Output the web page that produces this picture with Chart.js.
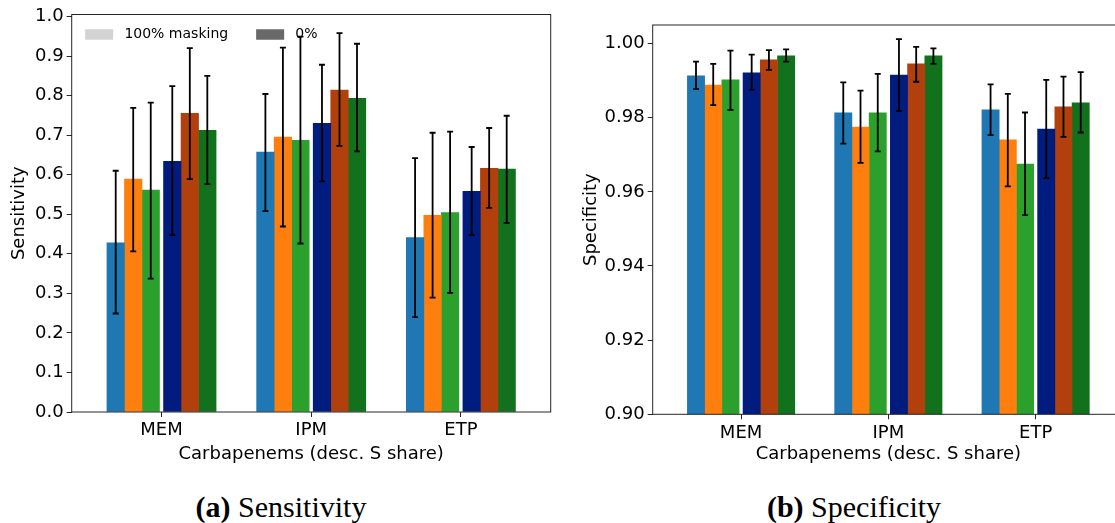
<!DOCTYPE html>
<html>
<head>
<meta charset="utf-8">
<script src="https://cdn.jsdelivr.net/npm/chart.js@4"></script>
<style>
  html, body { margin: 0; padding: 0; background: #fff; overflow: hidden; width: 1115px; height: 523px; }
  #wrap { position: relative; width: 1115px; height: 523px; overflow: hidden; }
  canvas { position: absolute; top: 0; }
  #sensChart { left: 0; width: 560px; height: 470px; }
  #specChart { left: 560px; width: 570px; height: 470px; }
  .cap { position: absolute; top: 492px; font-family: 'Liberation Serif', 'Times New Roman', serif;
         font-size: 30px; line-height: 30px; white-space: nowrap; transform: translateX(-50%); color: #000; }
</style>
</head>
<body>
<div id="wrap">
  <canvas id="sensChart" width="560" height="470"></canvas>
  <canvas id="specChart" width="570" height="470"></canvas>
  <div class="cap" style="left:281px"><b>(a)</b> Sensitivity</div>
  <div class="cap" style="left:854px"><b>(b)</b> Specificity</div>
</div>
<script>
// Carbapenem agents, ordered by descending S share
const categories = ['MEM', 'IPM', 'ETP'];

// Six bar series per agent: three models at 100% masking, then the same three at 0%
const seriesNames = ['model 1 (100%)', 'model 2 (100%)', 'model 3 (100%)',
                     'model 1 (0%)', 'model 2 (0%)', 'model 3 (0%)'];
const seriesColors = ['#1f77b4', '#ff7f0e', '#2ca02c', '#001c7f', '#b1400d', '#12711c'];

const legendLabels = ['100% masking', '0%'];
const legendColors = ['#d3d3d3', '#696969'];

// Sensitivity: mean and interval bounds, one row per series, columns follow categories
const sensMean = [
  [0.428, 0.657, 0.441],
  [0.589, 0.695, 0.497],
  [0.561, 0.687, 0.504],
  [0.634, 0.730, 0.558],
  [0.755, 0.814, 0.616],
  [0.712, 0.793, 0.614]
];
const sensLow = [
  [0.249, 0.508, 0.240],
  [0.406, 0.469, 0.289],
  [0.337, 0.426, 0.301],
  [0.447, 0.583, 0.447],
  [0.589, 0.673, 0.516],
  [0.576, 0.659, 0.478]
];
const sensHigh = [
  [0.610, 0.804, 0.642],
  [0.769, 0.921, 0.706],
  [0.782, 0.949, 0.709],
  [0.824, 0.878, 0.670],
  [0.920, 0.958, 0.718],
  [0.850, 0.931, 0.749]
];

// Specificity: mean and interval bounds
const specMean = [
  [0.9913, 0.9813, 0.9821],
  [0.9888, 0.9775, 0.9740],
  [0.9902, 0.9813, 0.9675],
  [0.9921, 0.9915, 0.9769],
  [0.9956, 0.9945, 0.9829],
  [0.9967, 0.9967, 0.9840]
];
const specLow = [
  [0.9877, 0.9730, 0.9753],
  [0.9834, 0.9678, 0.9615],
  [0.9821, 0.9709, 0.9537],
  [0.9875, 0.9818, 0.9637],
  [0.9929, 0.9897, 0.9748],
  [0.9951, 0.9945, 0.9760]
];
const specHigh = [
  [0.9951, 0.9895, 0.9890],
  [0.9945, 0.9873, 0.9864],
  [0.9981, 0.9918, 0.9814],
  [0.9970, 1.0012, 0.9902],
  [0.9982, 0.9991, 0.9911],
  [0.9984, 0.9987, 0.9923]
];

const sensTicks = [0.0, 0.1, 0.2, 0.3, 0.4, 0.5, 0.6, 0.7, 0.8, 0.9, 1.0];
const specTicks = [0.90, 0.92, 0.94, 0.96, 0.98, 1.00];

// Bar geometry in category units: two blocks of three bars with a small gap between them
const BAR_W = 0.117;
const BLOCK_GAP = 0.027;
function barOffset(k) {
  return k < 3 ? -BLOCK_GAP / 2 - (2.5 - k) * BAR_W
               : BLOCK_GAP / 2 + (k - 3 + 0.5) * BAR_W;
}

const FONT = 'DejaVu Sans';
Chart.defaults.font.family = FONT;
Chart.defaults.color = '#000';

const AXIS_COLOR = '#262626';

// Vertical error bars with caps, drawn from each dataset's low/high arrays
const errorBars = {
  id: 'errorBars',
  afterDatasetsDraw(chart) {
    const { ctx } = chart;
    const yScale = chart.scales.y;
    ctx.save();
    ctx.strokeStyle = '#000';
    ctx.lineWidth = 1.8;
    chart.data.datasets.forEach((ds, i) => {
      const meta = chart.getDatasetMeta(i);
      meta.data.forEach((bar, j) => {
        const top = yScale.getPixelForValue(ds.errHigh[j]);
        const bot = yScale.getPixelForValue(ds.errLow[j]);
        const cap = 3;
        ctx.beginPath();
        ctx.moveTo(bar.x, top); ctx.lineTo(bar.x, bot);
        ctx.moveTo(bar.x - cap, top); ctx.lineTo(bar.x + cap, top);
        ctx.moveTo(bar.x - cap, bot); ctx.lineTo(bar.x + cap, bot);
        ctx.stroke();
      });
    });
    ctx.restore();
  }
};

// Box around the plotting area
const frame = {
  id: 'frame',
  afterDraw(chart) {
    const { ctx, chartArea: a } = chart;
    ctx.save();
    ctx.strokeStyle = AXIS_COLOR;
    ctx.lineWidth = 1;
    ctx.strokeRect(a.left, a.top, a.right - a.left, a.bottom - a.top);
    ctx.restore();
  }
};

// Two-entry legend (masking level) placed inside the top-left corner
const maskLegend = {
  id: 'maskLegend',
  afterDraw(chart, args, opts) {
    if (!opts.show) return;
    const { ctx, chartArea: a } = chart;
    const fs = 14;
    ctx.save();
    ctx.font = fs + 'px ' + FONT;
    ctx.textBaseline = 'middle';
    ctx.textAlign = 'left';
    let x = a.left + 13.5;
    const yMid = a.top + 20;
    legendLabels.forEach((lab, i) => {
      ctx.fillStyle = legendColors[i];
      ctx.fillRect(x, yMid - 5.25, 2 * fs, 10.5);
      x += 2 * fs + 0.8 * fs;
      ctx.fillStyle = '#000';
      ctx.fillText(lab, x, yMid);
      x += ctx.measureText(lab).width + 2 * fs;
    });
    ctx.restore();
  }
};

function buildDatasets(mean, low, high) {
  return mean.map((row, k) => ({
    label: seriesNames[k],
    data: categories.map((c, j) => ({ x: j + barOffset(k), y: row[j] })),
    errLow: low[k],
    errHigh: high[k],
    backgroundColor: seriesColors[k],
    borderWidth: 0,
    grouped: false,
    barPercentage: 1,
    categoryPercentage: 1
  }));
}

function makeChart(canvasId, cfg) {
  return new Chart(document.getElementById(canvasId), {
    type: 'bar',
    data: { datasets: buildDatasets(cfg.mean, cfg.low, cfg.high) },
    options: {
      responsive: false,
      animation: false,
      events: [],
      layout: { padding: cfg.padding },
      plugins: {
        legend: { display: false },
        tooltip: { enabled: false },
        maskLegend: { show: cfg.legend }
      },
      scales: {
        x: {
          type: 'linear',
          offset: false,
          min: -0.6,
          max: 2.6,
          afterBuildTicks: (s) => { s.ticks = categories.map((c, i) => ({ value: i })); },
          afterFit: (s) => { s.height = cfg.xAxisHeight; },
          ticks: {
            callback: (v) => categories[Math.round(v)],
            font: { size: 18 },
            color: '#000',
            padding: 3,
            maxRotation: 0,
            autoSkip: false
          },
          grid: { offset: false, drawOnChartArea: false, drawTicks: true, tickLength: 5, color: AXIS_COLOR, lineWidth: 1 },
          border: { display: false },
          title: {
            display: true,
            text: 'Carbapenems (desc. S share)',
            font: { size: 18 },
            color: '#000',
            padding: { top: 0, bottom: 4.4 }
          }
        },
        y: {
          type: 'linear',
          min: cfg.yMin,
          max: cfg.yMax,
          afterBuildTicks: (s) => { s.ticks = cfg.ticks.map(v => ({ value: v })); },
          afterFit: (s) => { s.width = cfg.yAxisWidth; },
          ticks: {
            callback: (v) => v.toFixed(cfg.decimals),
            font: { size: 18 },
            color: '#000',
            padding: 3
          },
          grid: { drawOnChartArea: false, drawTicks: true, tickLength: 5, color: AXIS_COLOR, lineWidth: 1 },
          border: { display: false },
          title: {
            display: true,
            text: cfg.yTitle,
            font: { size: 18 },
            color: '#000',
            padding: { top: cfg.yTitlePad, bottom: 0 }
          }
        }
      }
    },
    plugins: [errorBars, frame, maskLegend]
  });
}

makeChart('sensChart', {
  mean: sensMean, low: sensLow, high: sensHigh,
  ticks: sensTicks, decimals: 1, yMin: 0, yMax: 1.005,
  yTitle: 'Sensitivity', yTitlePad: 9,
  yAxisWidth: 71.7, xAxisHeight: 58,
  padding: { left: 0, right: 9.3, top: 14.5, bottom: 0 },
  legend: true
});

makeChart('specChart', {
  mean: specMean, low: specLow, high: specHigh,
  ticks: specTicks, decimals: 2, yMin: 0.9, yMax: 1.005,
  yTitle: 'Specificity', yTitlePad: 20.7,
  yAxisWidth: 92.7, xAxisHeight: 55.7,
  padding: { left: 0, right: 6, top: 25, bottom: 0 },
  legend: false
});
</script>
</body>
</html>
